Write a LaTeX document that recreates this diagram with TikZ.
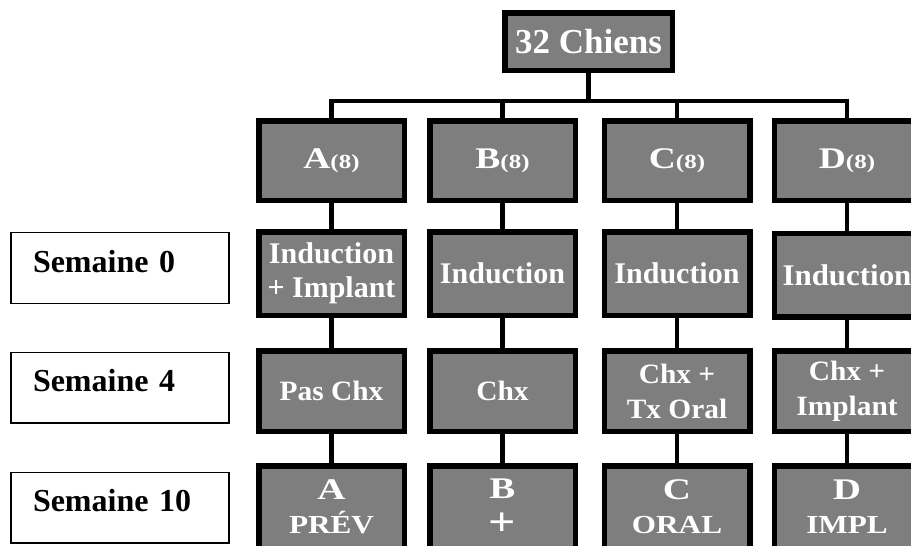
\documentclass[tikz,border=0pt]{standalone}
\usepackage{fontspec}
\setmainfont{Liberation Serif}
\usepackage{graphicx}
\definecolor{boxgray}{HTML}{7E7E7E}
\newcommand{\hstr}[2]{\scalebox{#1}[1]{#2}}
\newcommand{\fsz}[2]{\fontsize{#1}{#2}\selectfont}
\begin{document}
\begin{tikzpicture}[x=1pt,y=-1pt,
  gbox/.style={draw=black, line width=5.5pt, fill=boxgray, minimum width=145.5pt,
    inner sep=0pt, outer sep=0pt, text=white, align=center, font=\bfseries},
  rowone/.style={minimum height=79.5pt, font=\bfseries\fsz{30}{34}},
  rowtwo/.style={minimum height=83.5pt, font=\bfseries\fsz{30}{34}},
  rowthree/.style={minimum height=80.5pt, font=\bfseries\fsz{28}{35}},
  rowfour/.style={minimum height=82.5pt, font=\bfseries\fsz{30}{34}},
  wire/.style={draw=black, line width=4.5pt},
  wbox/.style={draw=black, line width=1.3pt, fill=white, text width=174pt, align=left,
    inner xsep=22pt, inner ysep=0pt, minimum height=70.7pt, text height=22pt,
    text depth=14pt, font=\bfseries\fsz{32}{36}}
]
\useasboundingbox (0,0) rectangle (911,546);
\clip (0,0) rectangle (911,546);
\fill[white] (0,0) rectangle (911,546);

% top
\node[gbox, minimum width=167.5pt, minimum height=57.5pt, font=\bfseries\fsz{35}{40}] (top) at (588.5,41.5) {32 Chiens};

% row 1
\node[gbox, rowone] (A1) at (331.5,160.5) {\hstr{1.25}{A\fsz{20}{22}(8)}};
\node[gbox, rowone] (B1) at (502.5,160.5) {\hstr{1.25}{B\fsz{20}{22}(8)}};
\node[gbox, rowone] (C1) at (677,160.5) {\hstr{1.25}{C\fsz{20}{22}(8)}};
\node[gbox, rowone] (D1) at (847,160.5) {\hstr{1.25}{D\fsz{20}{22}(8)}};

% row 2
\node[gbox, rowtwo] (A2) at (331.5,273.5) {Induction\\+ Implant};
\node[gbox, rowtwo] (B2) at (502.5,273.5) {Induction};
\node[gbox, rowtwo] (C2) at (677,273.5) {Induction};
\node[gbox, rowtwo] (D2) at (847,275) {\hstr{1.03}{Induction}};

% row 3
\node[gbox, rowthree] (A3) at (331.5,391) {\hstr{1.05}{Pas Chx}};
\node[gbox, rowthree] (B3) at (502.5,391) {\hstr{1.05}{Chx}};
\node[gbox, rowthree] (C3) at (677,391) {\hstr{1.05}{Chx +}\\\hstr{1.05}{Tx Oral}};
\node[gbox, rowthree] (D3) at (847,391) {\hstr{1.05}{Chx +}\\\hstr{1.05}{Implant}};

% row 4
\node[gbox, rowfour] (A4) at (331.5,507) {\hstr{1.3}{A}\\\hstr{1.2}{\fsz{26}{34}PRÉV}};
\node[gbox, rowfour] (B4) at (502.5,507) {\hstr{1.3}{B}\\[3pt]\hstr{1.2}{\fsz{40}{34}+}};
\node[gbox, rowfour] (C4) at (677,507) {\hstr{1.3}{C}\\\hstr{1.2}{\fsz{26}{34}ORAL}};
\node[gbox, rowfour] (D4) at (847,507) {\hstr{1.3}{D}\\\hstr{1.2}{\fsz{26}{34}IMPL}};

% left labels
\node[wbox] (S0) at (120,268) {Semaine 0};
\node[wbox] (S4) at (120,387.5) {Semaine 4};
\node[wbox] (S10) at (120,507.5) {Semaine 10};

% connectors
\coordinate (bus) at (0,101);
\draw[wire] (A1.north) -- (A1.north |- bus) -- (D1.north |- bus) -- (D1.north);
\draw[wire] (top.south) -- (top.south |- bus);
\draw[wire] (B1.north) -- (B1.north |- bus);
\draw[wire] (C1.north) -- (C1.north |- bus);
\foreach \c in {A,B,C,D}{
  \draw[wire] (\c1.south) -- (\c2.north);
  \draw[wire] (\c2.south) -- (\c3.north);
  \draw[wire] (\c3.south) -- (\c4.north);
}
\end{tikzpicture}
\end{document}
